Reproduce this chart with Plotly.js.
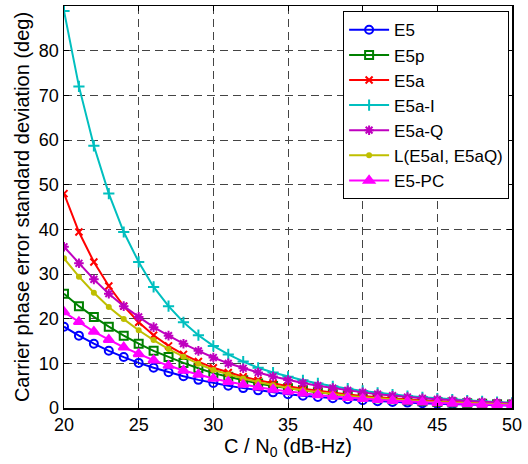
<!DOCTYPE html>
<html>
<head>
<meta charset="utf-8">
<script src="https://cdn.plot.ly/plotly-3.0.1.min.js"></script>
<style>html,body{margin:0;padding:0;background:#fff;}#chart{width:528px;height:464px;}</style>
</head>
<body>
<div id="chart"></div>
<script>
// C/N0 values (dB-Hz)
const cn0 = [20,21,22,23,24,25,26,27,28,29,30,31,32,33,34,35,36,37,38,39,40,41,42,43,44,45,46,47,48,49,50];

const seriesNames = ["E5", "E5p", "E5a", "E5a-I", "E5a-Q", "L(E5aI, E5aQ)", "E5-PC"];

const e5 = [18.2,16.2,14.4,12.8,11.4,10.1,9.0,8.0,7.1,6.3,5.6,5.0,4.45,3.95,3.5,3.1,2.75,2.45,2.18,1.94,1.72,1.53,1.36,1.21,1.08,0.96,0.85,0.76,0.67,0.60,0.53];
const e5p = [25.6,22.8,20.4,18.2,16.2,14.4,12.8,11.4,10.1,8.9,7.8,7.0,6.2,5.5,4.95,4.4,3.95,3.5,3.1,2.75,2.45,2.18,1.94,1.72,1.53,1.36,1.21,1.08,0.96,0.85,0.76];
const e5a = [48.0,39.4,32.7,27.3,22.8,19.2,16.3,13.9,12.0,10.4,9.0,7.95,7.0,6.2,5.5,4.87,4.32,3.83,3.4,3.02,2.68,2.38,2.12,1.88,1.67,1.49,1.33,1.18,1.05,0.94,0.84];
const e5aI = [88.9,72.0,58.7,48.0,39.4,32.7,27.1,22.8,19.2,16.3,13.9,12.0,10.4,9.0,7.95,7.0,6.2,5.5,4.87,4.32,3.83,3.4,3.02,2.68,2.38,2.12,1.88,1.67,1.49,1.33,1.18];
const e5aQ = [36.1,32.4,28.8,25.6,22.8,20.4,18.1,16.2,14.4,12.8,11.3,10.0,8.9,7.95,7.05,6.25,5.6,5.0,4.45,3.95,3.5,3.1,2.75,2.45,2.18,1.94,1.72,1.53,1.36,1.21,1.08];
const lE5a = [33.5,29.4,25.8,22.6,19.9,17.4,15.2,13.2,11.5,9.9,8.5,7.5,6.6,5.8,5.1,4.5,3.95,3.5,3.1,2.75,2.42,2.15,1.9,1.69,1.5,1.33,1.18,1.05,0.93,0.83,0.74];
const e5pc = [21.5,19.3,17.1,15.3,13.6,12.1,10.7,9.5,8.4,7.5,6.6,5.9,5.25,4.65,4.15,3.7,3.3,2.93,2.6,2.3,2.05,1.82,1.62,1.44,1.28,1.14,1.01,0.9,0.8,0.71,0.63];

const xTicks = [20,25,30,35,40,45,50];
const yTicks = [0,10,20,30,40,50,60,70,80,90];

const seriesValues = [e5, e5p, e5a, e5aI, e5aQ, lE5a, e5pc];
const colors = ["#0000ff", "#008000", "#ff0000", "#00bfbf", "#bf00bf", "#bfbf00", "#ff00ff"];
const symbols = ["circle-open", "square-open", "x-thin-open", "cross-thin-open", "asterisk-open", "circle", "triangle-up"];
const sizes = [8, 8, 7, 8, 8, 4, 9];

const traces = seriesNames.map((name, i) => ({
  x: cn0,
  y: seriesValues[i],
  name: name,
  type: "scatter",
  mode: "lines+markers",
  line: {color: colors[i], width: 2},
  marker: {symbol: symbols[i], size: sizes[i], color: colors[i], line: {color: colors[i], width: 2}}
}));

const fontFam = "Liberation Sans, Arial, Helvetica, sans-serif";
const axisCommon = {
  showline: true, linecolor: "#000", linewidth: 1.5, mirror: "ticks",
  ticks: "inside", ticklen: 5, tickcolor: "#000", tickwidth: 1,
  showgrid: true, gridcolor: "#444", gridwidth: 1, griddash: "8px,5px",
  zeroline: false,
  tickfont: {family: fontFam, size: 18, color: "#000"}
};

const layout = {
  width: 528, height: 464,
  margin: {l: 64, r: 16, t: 6, b: 56},
  paper_bgcolor: "#fff", plot_bgcolor: "#fff",
  font: {family: fontFam, color: "#000"},
  showlegend: true,
  xaxis: Object.assign({}, axisCommon, {
    range: [20, 50], tickvals: xTicks, ticktext: xTicks.map(String),
    title: {text: "C / N<sub>0</sub> (dB-Hz)", font: {family: fontFam, size: 20, color: "#000"}, standoff: 0}
  }),
  yaxis: Object.assign({}, axisCommon, {
    range: [0, 90], tickvals: yTicks, ticktext: yTicks.map(String),
    title: {text: "Carrier phase error standard deviation (deg)", font: {family: fontFam, size: 20, color: "#000"}, standoff: 4}
  }),
  legend: {
    x: 0.623, y: 0.987, xanchor: "left", yanchor: "top",
    bgcolor: "#fff", bordercolor: "#000", borderwidth: 1,
    font: {family: fontFam, size: 17, color: "#000"},
    itemwidth: 40,
    tracegroupgap: 0
  }
};

Plotly.newPlot("chart", traces, layout, {displayModeBar: false, staticPlot: true});
</script>
</body>
</html>
